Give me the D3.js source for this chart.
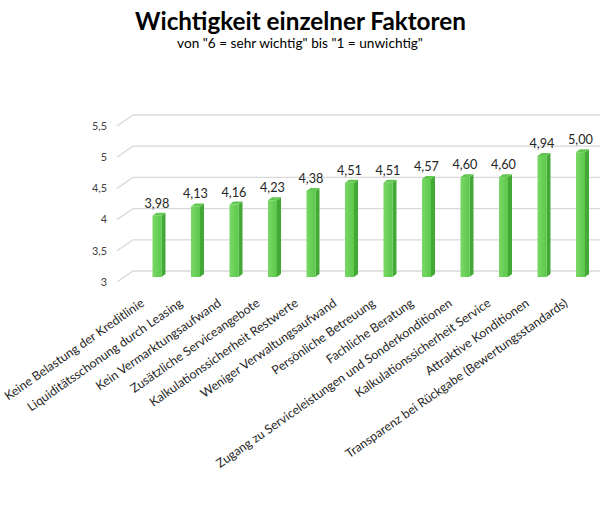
<!DOCTYPE html>
<html><head><meta charset="utf-8">
<script src="https://cdn.jsdelivr.net/npm/d3@7/dist/d3.min.js"></script>
<style>body{margin:0;background:#fff}svg{display:block}</style>
</head><body>
<script>
const categories = ["Keine Belastung der Kreditlinie","Liquiditätsschonung durch Leasing","Kein Vermarktungsaufwand","Zusätzliche Serviceangebote","Kalkulationssicherheit Restwerte","Weniger Verwaltungsaufwand","Persönliche Betreuung","Fachliche Beratung","Zugang zu Serviceleistungen und Sonderkonditionen","Kalkulationssicherheit Service","Attraktive Konditionen","Transparenz bei Rückgabe (Bewertungsstandards)"];
const values = [3.98,4.13,4.16,4.23,4.38,4.51,4.51,4.57,4.60,4.60,4.94,5.00];
const valueLabels = ["3,98","4,13","4,16","4,23","4,38","4,51","4,51","4,57","4,60","4,60","4,94","5,00"];
const yTicks = [3,3.5,4,4.5,5,5.5];
const yTickLabels = ["3","3,5","4","4,5","5","5,5"];
const title = "Wichtigkeit einzelner Faktoren";
const subtitle = 'von "6 = sehr wichtig" bis "1 = unwichtig"';

const W=600,H=524, FONT="Lato, 'Open Sans', sans-serif";
const svg=d3.select("body").append("svg").attr("width",W).attr("height",H);
const defs=svg.append("defs");
const g1=defs.append("linearGradient").attr("id","front").attr("x1","0").attr("x2","1").attr("y1","0").attr("y2","0");
g1.append("stop").attr("offset","0").attr("stop-color","#7ad866");
g1.append("stop").attr("offset","1").attr("stop-color","#5cc84b");

function fit(sel,target){const n=sel.node();const fs=parseFloat(sel.attr("font-size"));const w=n.getComputedTextLength();sel.attr("font-size",fs*target/w);return fs*target/w;}

const y=d3.scaleLinear().domain([3,5.5]).range([271,115]);
const x=d3.scaleBand().domain(categories).range([137.75,599.75]).padding(0);
const depthDX=-16, depthDY=11, barDY=6, bw=9, sdx=4, sdy=-3;

// gridlines (back wall + floor slant)
const grid=svg.append("g");
yTicks.forEach(t=>{
  grid.append("path").attr("d",`M${133+depthDX},${y(t)+depthDY}L133,${y(t)}L600,${y(t)}`)
    .attr("fill","none").attr("stroke","#d9d9d9").attr("stroke-width",1.3);
});
// y tick labels
const tl=svg.append("g").selectAll("text").data(yTicks).join("text")
  .attr("x",107).attr("y",d=>y(d)+depthDY).attr("dy","0.35em").attr("text-anchor","end")
  .attr("font-family",FONT).attr("font-size",12).attr("fill","#404040").text((d,i)=>yTickLabels[i]);
const tfs=fit(tl.filter((d,i)=>i===5),15); tl.attr("font-size",tfs);

// bars
const bars=svg.append("g").selectAll("g").data(values).join("g");
bars.each(function(v,i){
  const g=d3.select(this);
  const cx=x(categories[i])+x.bandwidth()/2;
  const xl=cx-bw/2, xr=cx+bw/2, yt=y(v)+barDY, yb=y(3)+barDY;
  g.append("path").attr("d",`M${xr},${yt}L${xr+sdx},${yt+sdy}L${xr+sdx},${yb+sdy}L${xr},${yb}Z`).attr("fill","#44a836");
  g.append("path").attr("d",`M${xl},${yt}L${xr},${yt}L${xr+sdx},${yt+sdy}L${xl+sdx},${yt+sdy}Z`).attr("fill","#62c851");
  g.append("rect").attr("x",xl).attr("y",yt).attr("width",bw).attr("height",yb-yt).attr("fill","url(#front)");
});
// value labels
const vl=svg.append("g").selectAll("text").data(values).join("text")
  .attr("x",(d,i)=>x(categories[i])+x.bandwidth()/2).attr("y",d=>y(d)+barDY-8)
  .attr("text-anchor","middle").attr("font-family",FONT).attr("font-size",13).attr("fill","#262626")
  .text((d,i)=>valueLabels[i]);
const vfs=fit(vl.filter((d,i)=>i===0),25); vl.attr("font-size",vfs);

// x labels
const xl=svg.append("g").selectAll("text").data(categories).join("text")
  .attr("transform",(d)=>`translate(${x(d)+x.bandwidth()/2-12},${305}) rotate(-35)`)
  .attr("text-anchor","end").attr("font-family",FONT).attr("font-size",12).attr("fill","#262626").text(d=>d);
const targets={0:164,8:283,11:275};
let ratios=[];
xl.each(function(d,i){ if(targets[i]) ratios.push(targets[i]/this.getComputedTextLength()); });
const xfs=12*d3.mean(ratios); xl.attr("font-size",xfs);

// titles
const tt=svg.append("text").attr("x",300.5).attr("y",30).attr("text-anchor","middle")
  .attr("font-family",FONT).attr("font-weight","bold").attr("font-size",24).attr("fill","#000").text(title);
fit(tt,331);
const st=svg.append("text").attr("x",300).attr("y",48).attr("text-anchor","middle")
  .attr("font-family",FONT).attr("font-size",13).attr("fill","#000").text(subtitle);
fit(st,246);
</script>
</body></html>
